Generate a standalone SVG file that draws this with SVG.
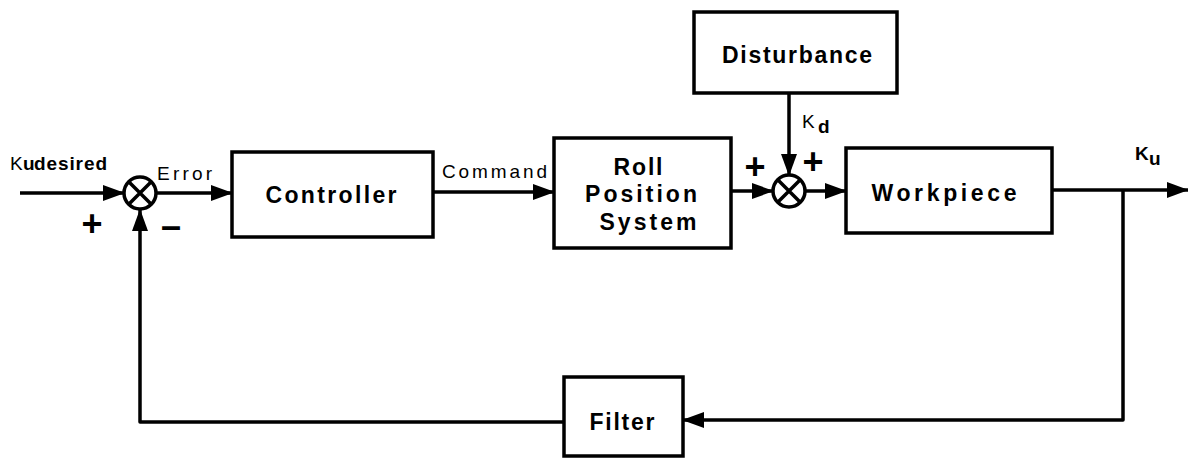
<svg xmlns="http://www.w3.org/2000/svg" width="1188" height="461" viewBox="0 0 1188 461">
<style>
.box{fill:#fff;stroke:#000;stroke-width:3.5}
.ln{fill:none;stroke:#000;stroke-width:3.5;stroke-linejoin:round}
.sum{fill:#fff;stroke:#000;stroke-width:3.5}
.lbl{font-family:"Liberation Sans",Arial,sans-serif;font-weight:bold;font-size:23px;fill:#000}
.sig{font-family:"Liberation Sans",Arial,sans-serif;font-size:19px;fill:#000}
.sgn{font-family:"Liberation Sans",Arial,sans-serif;font-weight:bold;font-size:36px;fill:#000}
</style>
<defs>
<marker id="ah" markerUnits="userSpaceOnUse" markerWidth="22" markerHeight="16" refX="21" refY="8" orient="auto">
<path d="M0,0 L22,8 L0,16 Z" fill="#000"/>
</marker>
</defs>
<rect width="1188" height="461" fill="#fff"/>
<g id="connectors">
<line class="ln" x1="20" y1="193" x2="124" y2="193" marker-end="url(#ah)"/>
<line class="ln" x1="156" y1="193" x2="232" y2="193" marker-end="url(#ah)"/>
<line class="ln" x1="433" y1="192" x2="554" y2="192" marker-end="url(#ah)"/>
<line class="ln" x1="731" y1="191" x2="773" y2="191" marker-end="url(#ah)"/>
<line class="ln" x1="789" y1="93" x2="789" y2="175" marker-end="url(#ah)"/>
<line class="ln" x1="805" y1="191" x2="846" y2="191" marker-end="url(#ah)"/>
<line class="ln" x1="1052" y1="190" x2="1188" y2="190" marker-end="url(#ah)"/>
<polyline class="ln" points="1123,190 1123,420 683,420" marker-end="url(#ah)"/>
<polyline class="ln" points="564,422 140,422 140,210" marker-end="url(#ah)"/>
</g>
<g id="sum1">
<circle class="sum" cx="140" cy="193" r="16"/>
<path class="ln" d="M129,182 L151,204 M151,182 L129,204"/>
</g>
<g id="sum2">
<circle class="sum" cx="789" cy="191" r="16"/>
<path class="ln" d="M778,180 L800,202 M800,180 L778,202"/>
</g>
<g id="controller">
<rect class="box" x="232" y="152" width="201" height="85"/>
<text class="lbl" x="331" y="203" text-anchor="middle" textLength="131" lengthAdjust="spacing" font-size="24">Controller</text>
</g>
<g id="roll">
<rect class="box" x="554" y="138" width="177" height="110"/>
<text class="lbl" x="638" y="175" text-anchor="middle" textLength="49" lengthAdjust="spacing">Roll</text>
<text class="lbl" x="641" y="202" text-anchor="middle" textLength="112" lengthAdjust="spacing">Position</text>
<text class="lbl" x="648" y="230" text-anchor="middle" textLength="97" lengthAdjust="spacing">System</text>
</g>
<g id="disturbance">
<rect class="box" x="694" y="12" width="203" height="81"/>
<text class="lbl" x="797" y="63" text-anchor="middle" textLength="150" lengthAdjust="spacing" font-size="21">Disturbance</text>
</g>
<g id="workpiece">
<rect class="box" x="846" y="148" width="206" height="85"/>
<text class="lbl" x="944" y="201" text-anchor="middle" textLength="145" lengthAdjust="spacing" font-size="24">Workpiece</text>
</g>
<g id="filter">
<rect class="box" x="564" y="377" width="119" height="79"/>
<text class="lbl" x="622" y="430" text-anchor="middle" textLength="65" lengthAdjust="spacing" font-size="21">Filter</text>
</g>
<g id="labels">
<text class="sig" x="10" y="170" font-size="17" textLength="12">K</text>
<text class="sig" x="23" y="170" font-weight="bold" font-size="17">u</text>
<text class="sig" x="34" y="170" font-size="13" font-weight="bold" textLength="73" lengthAdjust="spacing">desired</text>
<text class="sig" x="157" y="180" font-size="20" textLength="55" lengthAdjust="spacing">Error</text>
<text class="sig" x="442" y="178" font-size="21" textLength="105" lengthAdjust="spacing">Command</text>
<text class="sig" x="802" y="128" font-size="17">K</text>
<text class="sig" x="818" y="133" font-size="19" font-weight="bold">d</text>
<text class="sig" x="1135" y="160" font-size="18" font-weight="bold">K</text>
<text class="sig" x="1149" y="165" font-size="18" font-weight="bold">u</text>
<text class="sgn" x="92" y="236" text-anchor="middle">+</text>
<text class="sgn" x="171" y="238" text-anchor="middle" font-weight="normal" font-size="40">–</text>
<text class="sgn" x="755" y="179" text-anchor="middle">+</text>
<text class="sgn" x="813" y="174" text-anchor="middle">+</text>
</g>
</svg>
